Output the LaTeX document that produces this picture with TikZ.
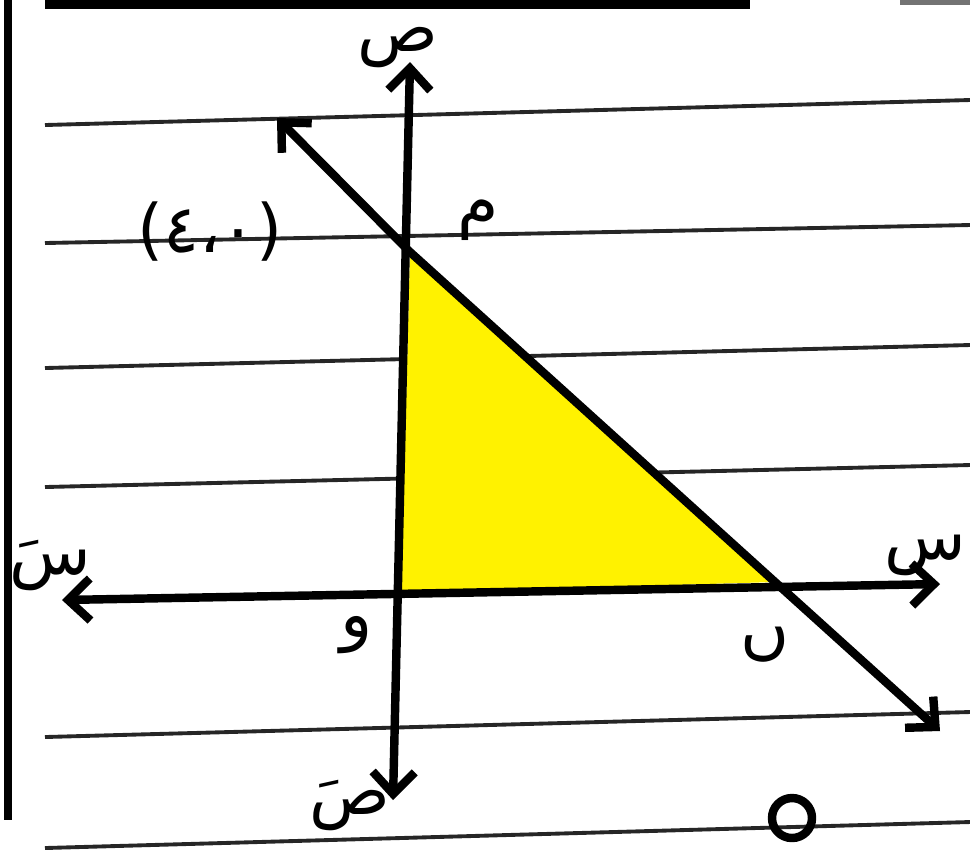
\documentclass[tikz,border=0pt]{standalone}
\usepackage{fontspec}
\usepackage{tikz}
\usetikzlibrary{arrows.meta}
\newfontfamily\arabicfont[Script=Arabic]{DejaVu Sans}
\TeXXeTstate=1
\tikzset{
  pen/.style={line width=2.4pt, line cap=round, line join=round},
  rule/.style={line width=1.1pt, black!85},
  lbl/.style={font=\arabicfont\fontsize{19}{22}\selectfont, inner sep=1pt},
  >={Straight Barb[length=2.2mm, width=4.2mm]}
}
\begin{document}
\begin{tikzpicture}[x=0.01cm, y=-0.01cm]
\useasboundingbox (0,0) rectangle (970,850);
% page edges
\fill (45,0) rectangle (750,9);
\fill[black!55] (900,0) rectangle (970,5);
\fill (4,0) rectangle (12,820);
% ruled lines
\foreach \yl/\yr in {125/100, 243/225, 368/345, 487/465, 737/712, 848/822}
  \draw[rule] (45,\yl) -- (970,\yr);
% points
\coordinate (O) at (401,593);
\coordinate (P) at (410,252);
\coordinate (C) at (775,582);
\coordinate (ytop) at (410,62);
\coordinate (ybot) at (393,800);
\coordinate (xleft) at (62,600);
\coordinate (xright) at (940,584);
\coordinate (ltop) at (277,118);
\coordinate (lbot) at (940,731);
% shaded triangle
\fill[yellow] (P) -- (O) -- (C) -- cycle;
% axes and line
\draw[pen,<->] (xleft) -- (xright);
\draw[pen,<->] (ybot) -- (ytop);
\draw[pen,<->] (ltop) -- (P) -- (C) -- (lbot);
% labels
\node[lbl] (ypos) at (398,48) {\beginR ص\endR};
\node[lbl] (yneg) at (350,805) {\beginR صَ\endR};
\node[lbl] (xneg) at (50,565) {\beginR سَ\endR};
\node[lbl] (xpos) at (925,555) {\beginR س\endR};
\node[lbl] (Plbl) at (478,220) {\beginR م\endR};
\node[lbl] (pcoord) at (210,232) {(٤،٠)};
\node[lbl] (Olbl) at (357,635) {\beginR و\endR};
\node[lbl] (Clbl) at (765,645) {\beginR ں\endR};
\draw[pen] (792,818) circle (20);
\end{tikzpicture}
\end{document}
